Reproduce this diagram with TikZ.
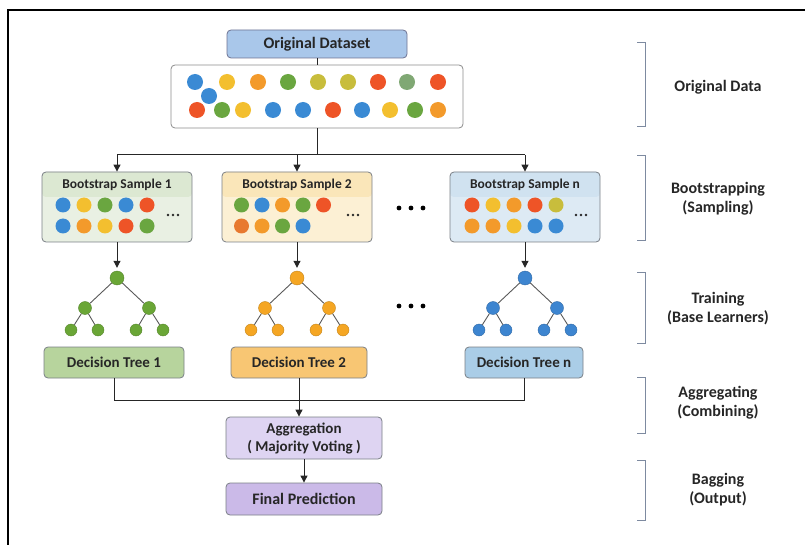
\documentclass[tikz,border=0pt]{standalone}
\usepackage{fontspec}
\setmainfont{Carlito}
\usetikzlibrary{arrows.meta,calc}

% palette
\definecolor{txt}{HTML}{262626}
\definecolor{edgegray}{HTML}{7A7F86}
\definecolor{brk}{HTML}{7D8AA0}
\definecolor{cB}{HTML}{3A8AD4}
\definecolor{cY}{HTML}{F3BF2F}
\definecolor{cO}{HTML}{F39A2B}
\definecolor{cG}{HTML}{6AA640}
\definecolor{cL}{HTML}{C8BD3C}
\definecolor{cR}{HTML}{EE5427}
\definecolor{cS}{HTML}{80A874}
\definecolor{cD}{HTML}{E8792F}
\definecolor{origfill}{HTML}{A9C7EA}
\definecolor{sgbody}{HTML}{E9F0E3}
\definecolor{sghead}{HTML}{DCE8D2}
\definecolor{sybody}{HTML}{FCF0D4}
\definecolor{syhead}{HTML}{FAE6B9}
\definecolor{sbbody}{HTML}{DDEAF4}
\definecolor{sbhead}{HTML}{D0E2F0}
\definecolor{dtg}{HTML}{B7D49D}
\definecolor{dto}{HTML}{F8C673}
\definecolor{dtb}{HTML}{AACDE7}
\definecolor{aggfill}{HTML}{DED4F2}
\definecolor{finfill}{HTML}{CBBAE8}
\definecolor{tg}{HTML}{6AA636}
\definecolor{to}{HTML}{F5A623}
\definecolor{tb}{HTML}{3D85D0}

\tikzset{
  lbl/.style={font=\bfseries\fontsize{16}{19}\selectfont, text=txt, align=center},
  flowbox/.style={rounded corners=4pt, draw=edgegray, line width=0.8pt, inner sep=0pt},
  samplebox/.style 2 args={flowbox, fill=#1, minimum width=150, minimum height=70,
    path picture={\fill[#2] (path picture bounding box.north west)
      rectangle ([yshift=-25pt]path picture bounding box.north east);}},
  stitle/.style={font=\bfseries\fontsize{13.5}{15}\selectfont, text=txt},
  dtbox/.style={flowbox, fill=#1, minimum height=31,
    font=\bfseries\fontsize{15}{17}\selectfont, text=txt},
  conn/.style={draw=black!85, line width=1pt},
  arr/.style={conn, -{Triangle[length=7pt,width=7pt]}},
  tedge/.style={draw=black!65, line width=0.9pt},
  tnode/.style={circle, fill=#1, draw=#1!80!black, line width=0.4pt, inner sep=0pt},
  bracket/.style={draw=brk, line width=1pt},
}

\begin{document}
\begin{tikzpicture}[x=1pt, y=-1pt]
\useasboundingbox (0,0) rectangle (805,545);

% outer frame
\draw[line width=2.5pt] (8,545) -- (8,10) -- (805,10);

% ---------- original data ----------
\node[flowbox, fill=origfill, draw=edgegray!90!blue, minimum width=180, minimum height=28,
  font=\bfseries\fontsize{16}{18}\selectfont, text=txt] (orig) at (317,44) {Original Dataset};
\node[flowbox, fill=white, draw=black!45, minimum width=292, minimum height=63] (data) at (317,96.5) {};

\foreach \c/\x in {cB/195,cY/227,cO/258,cG/288,cL/318,cL/348,cR/378,cS/407,cR/438}
  \fill[\c] (\x,82) circle (8);
\fill[cB] (209,96) circle (8);
\foreach \c/\x in {cR/197,cG/222,cY/243,cB/273,cB/303,cR/333,cB/362,cY/390,cG/415,cO/438}
  \fill[\c] (\x,110) circle (8);

% ---------- bootstrap samples ----------
\node[samplebox={sgbody}{sghead}] (s1) at (117,207) {};
\node[samplebox={sybody}{syhead}] (s2) at (297,207) {};
\node[samplebox={sbbody}{sbhead}] (sn) at (525,207) {};
\node[stitle] (s1t) at (117,185) {Bootstrap Sample 1};
\node[stitle] (s2t) at (297,185) {Bootstrap Sample 2};
\node[stitle] (snt) at (525,185) {Bootstrap Sample n};

% sample 1 dots
\foreach \c [count=\i] in {cB,cY,cG,cB,cR} \fill[\c] ({42+21*\i},205) circle (7.5);
\foreach \c [count=\i] in {cB,cO,cY,cR,cG} \fill[\c] ({42+21*\i},226) circle (7.5);
% sample 2 dots
\foreach \c [count=\i] in {cG,cB,cO,cG,cR} \fill[\c] ({221+20.5*\i},205) circle (7.5);
\foreach \c [count=\i] in {cD,cO,cG,cB} \fill[\c] ({221+20.5*\i},226) circle (7.5);
% sample n dots
\foreach \c [count=\i] in {cR,cY,cO,cR,cL} \fill[\c] ({451+21*\i},205) circle (7.5);
\foreach \c [count=\i] in {cO,cO,cY,cB,cB} \fill[\c] ({451+21*\i},226) circle (7.5);
% trailing ellipses inside the sample boxes
\foreach \l in {42,222,450}
  \foreach \d in {-5,0,5} \fill[txt] ({\l+131+\d},215) circle (1.3);

% gaps between sample 2 and sample n
\foreach \x in {399,411,423} \fill[black] (\x,208) circle (2.4);
\foreach \x in {399,411,423} \fill[black] (\x,306) circle (2.4);

% ---------- decision trees ----------
\foreach \n/\cx/\col in {1/117/tg, 2/297/to, n/525/tb} {
  \node[tnode=\col, minimum size=14] (t\n r) at (\cx,278) {};
  \node[tnode=\col, minimum size=13] (t\n a) at ({\cx-32},308) {};
  \node[tnode=\col, minimum size=13] (t\n b) at ({\cx+32},308) {};
  \node[tnode=\col, minimum size=12] (t\n c) at ({\cx-46},330) {};
  \node[tnode=\col, minimum size=12] (t\n d) at ({\cx-19},330) {};
  \node[tnode=\col, minimum size=12] (t\n e) at ({\cx+19},330) {};
  \node[tnode=\col, minimum size=12] (t\n f) at ({\cx+46},330) {};
  \draw[tedge] (t\n r) -- (t\n a);
  \draw[tedge] (t\n r) -- (t\n b);
  \draw[tedge] (t\n a) -- (t\n c);
  \draw[tedge] (t\n a) -- (t\n d);
  \draw[tedge] (t\n b) -- (t\n e);
  \draw[tedge] (t\n b) -- (t\n f);
}

\node[dtbox=dtg, minimum width=140] (d1) at (114,362.5) {Decision Tree 1};
\node[dtbox=dto, minimum width=136] (d2) at (299,362.5) {Decision Tree 2};
\node[dtbox=dtb, minimum width=118] (dn) at (524,362.5) {Decision Tree n};

% ---------- aggregation ----------
\node[flowbox, fill=aggfill, minimum width=156, minimum height=42, align=center,
  font=\bfseries\fontsize{15}{18}\selectfont, text=txt] (agg) at (304,438)
  {Aggregation\\( Majority Voting )};
\node[flowbox, fill=finfill, minimum width=156, minimum height=32,
  font=\bfseries\fontsize{16}{18}\selectfont, text=txt] (fin) at (304,499) {Final Prediction};

% ---------- connectors ----------
\coordinate (split) at (317,155);
\coordinate (join) at (299,400);
\draw[conn] (orig.south) -- (data.north);
\draw[conn] (data.south) -- (split);
\draw[conn] (s1.north |- split) -- (sn.north |- split);
\foreach \s in {s1,s2,sn} \draw[arr] (\s.north |- split) -- (\s.north);
\foreach \n in {1,2,n} \draw[arr, shorten >=3pt] (s\n.south) -- (t\n r.north);
\draw[conn] (d1.south) -- (d1.south |- join) -- (dn.south |- join) -- (dn.south);
\draw[conn] (d2.south) -- (join);
\draw[arr] (join) -- (join |- agg.north);
\draw[arr] (agg.south) -- (fin.north);

% ---------- stage labels ----------
\draw[bracket] (637,43) -- (645,43) -- (645,127) -- (637,127);
\draw[bracket] (637,156) -- (645,156) -- (645,241) -- (637,241);
\draw[bracket] (637,272) -- (645,272) -- (645,343) -- (637,343);
\draw[bracket] (637,377) -- (645,377) -- (645,433) -- (637,433);
\draw[bracket] (637,460) -- (645,460) -- (645,520) -- (637,520);
\node[lbl] (lab1) at (718,87) {Original Data};
\node[lbl] (lab2) at (718,199) {Bootstrapping\\(Sampling)};
\node[lbl] (lab3) at (718,309) {Training\\(Base Learners)};
\node[lbl] (lab4) at (718,403) {Aggregating\\(Combining)};
\node[lbl] (lab5) at (718,490) {Bagging\\(Output)};
\end{tikzpicture}
\end{document}
